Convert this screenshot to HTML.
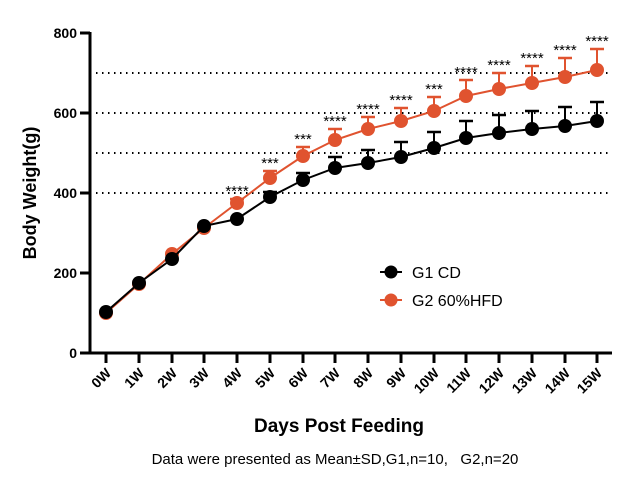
<!DOCTYPE html>
<html><head><meta charset="utf-8"><style>body{margin:0;background:#fff}svg{display:block}</style></head><body>
<svg width="637" height="487" xmlns="http://www.w3.org/2000/svg" font-family="Liberation Sans, Arial, sans-serif">
<g stroke="#000" stroke-width="2" stroke-dasharray="1.5,4.5">
<line x1="96" y1="73" x2="612" y2="73"/><line x1="96" y1="113" x2="612" y2="113"/><line x1="96" y1="153" x2="612" y2="153"/><line x1="96" y1="193" x2="612" y2="193"/>
</g>
<g stroke="#e0532f" stroke-width="2" fill="none">
<path d="M237,203V199M270,178V171M303,156V147M335,140V129M368,129V117M401,121V108M434,111V97M466,96V80M499,89V73M532,83V66M565,77V58M597,70V49"/>
<path stroke-width="2.5" d="M230,199H244M263,171H277M296,147H310M328,129H342M361,117H375M394,108H408M427,97H441M459,80H473M492,73H506M525,66H539M558,58H572M590,49H604"/>
<path d="M106,313L139,284L172,254L204,228L237,203L270,178L303,156L335,140L368,129L401,121L434,111L466,96L499,89L532,83L565,77L597,70"/>
</g>
<g fill="#e0532f">
<circle cx="106" cy="313" r="7"/><circle cx="139" cy="284" r="7"/><circle cx="172" cy="254" r="7"/><circle cx="204" cy="228" r="7"/><circle cx="237" cy="203" r="7"/><circle cx="270" cy="178" r="7"/><circle cx="303" cy="156" r="7"/><circle cx="335" cy="140" r="7"/><circle cx="368" cy="129" r="7"/><circle cx="401" cy="121" r="7"/><circle cx="434" cy="111" r="7"/><circle cx="466" cy="96" r="7"/><circle cx="499" cy="89" r="7"/><circle cx="532" cy="83" r="7"/><circle cx="565" cy="77" r="7"/><circle cx="597" cy="70" r="7"/>
</g>
<g stroke="#000" stroke-width="2" fill="none">
<path d="M270,197V192M303,180V173M335,168V157M368,163V150M401,157V142M434,148V132M466,138V121M499,133V115M532,129V111M565,126V107M597,121V102"/>
<path stroke-width="2.5" d="M263,192H277M296,173H310M328,157H342M361,150H375M394,142H408M427,132H441M459,121H473M492,115H506M525,111H539M558,107H572M590,102H604"/>
<path d="M106,312L139,283L172,259L204,226L237,219L270,197L303,180L335,168L368,163L401,157L434,148L466,138L499,133L532,129L565,126L597,121"/>
</g>
<g fill="#000">
<circle cx="106" cy="312" r="7"/><circle cx="139" cy="283" r="7"/><circle cx="172" cy="259" r="7"/><circle cx="204" cy="226" r="7"/><circle cx="237" cy="219" r="7"/><circle cx="270" cy="197" r="7"/><circle cx="303" cy="180" r="7"/><circle cx="335" cy="168" r="7"/><circle cx="368" cy="163" r="7"/><circle cx="401" cy="157" r="7"/><circle cx="434" cy="148" r="7"/><circle cx="466" cy="138" r="7"/><circle cx="499" cy="133" r="7"/><circle cx="532" cy="129" r="7"/><circle cx="565" cy="126" r="7"/><circle cx="597" cy="121" r="7"/>
</g>
<g font-size="15" text-anchor="middle">
<text x="237" y="196">****</text><text x="270" y="168">***</text><text x="303" y="144">***</text><text x="335" y="126">****</text><text x="368" y="114">****</text><text x="401" y="105">****</text><text x="434" y="94">***</text><text x="466" y="77">****</text><text x="499" y="70">****</text><text x="532" y="63">****</text><text x="565" y="55">****</text><text x="597" y="46">****</text>
</g>
<g stroke="#000" stroke-width="3" fill="none">
<line x1="90" y1="32" x2="90" y2="354"/><line x1="89" y1="353" x2="612" y2="353"/>
<line x1="80" y1="33" x2="90" y2="33"/><line x1="80" y1="113" x2="90" y2="113"/><line x1="80" y1="193" x2="90" y2="193"/><line x1="80" y1="273" x2="90" y2="273"/><line x1="80" y1="353" x2="90" y2="353"/>
<path d="M106,353V363M139,353V363M172,353V363M204,353V363M237,353V363M270,353V363M303,353V363M335,353V363M368,353V363M401,353V363M434,353V363M466,353V363M499,353V363M532,353V363M565,353V363M597,353V363"/>
</g>
<g font-weight="bold" font-size="14" text-anchor="end">
<text x="77" y="38">800</text><text x="77" y="118">600</text><text x="77" y="198">400</text><text x="77" y="278">200</text><text x="77" y="358">0</text>
</g>
<g font-weight="bold" font-size="14" text-anchor="end">
<text transform="translate(112,374) rotate(-45)">0W</text><text transform="translate(145,374) rotate(-45)">1W</text><text transform="translate(178,374) rotate(-45)">2W</text><text transform="translate(210,374) rotate(-45)">3W</text><text transform="translate(243,374) rotate(-45)">4W</text><text transform="translate(276,374) rotate(-45)">5W</text><text transform="translate(309,374) rotate(-45)">6W</text><text transform="translate(341,374) rotate(-45)">7W</text><text transform="translate(374,374) rotate(-45)">8W</text><text transform="translate(407,374) rotate(-45)">9W</text><text transform="translate(440,374) rotate(-45)">10W</text><text transform="translate(472,374) rotate(-45)">11W</text><text transform="translate(505,374) rotate(-45)">12W</text><text transform="translate(538,374) rotate(-45)">13W</text><text transform="translate(571,374) rotate(-45)">14W</text><text transform="translate(603,374) rotate(-45)">15W</text>
</g>
<text transform="translate(36,193) rotate(-90)" font-weight="bold" font-size="18" text-anchor="middle">Body Weight(g)</text>
<text x="339" y="432" font-weight="bold" font-size="19" text-anchor="middle">Days Post Feeding</text>
<text x="335" y="464" font-size="15" text-anchor="middle">Data were presented as Mean±SD,G1,n=10,&#160;&#160; G2,n=20</text>
<line x1="380" y1="272" x2="402" y2="272" stroke="#000" stroke-width="2"/><circle cx="391" cy="272" r="6.5" fill="#000"/>
<text x="412" y="278" font-size="16">G1 CD</text>
<line x1="380" y1="300" x2="402" y2="300" stroke="#e0532f" stroke-width="2"/><circle cx="391" cy="300" r="6.5" fill="#e0532f"/>
<text x="412" y="306" font-size="16">G2 60%HFD</text>
</svg>
</body></html>
